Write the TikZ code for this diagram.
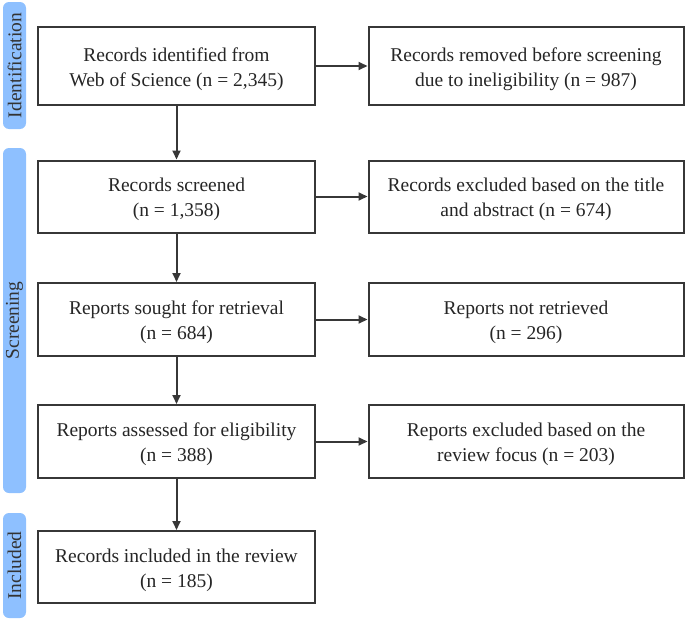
\documentclass[tikz,border=0pt]{standalone}
\usepackage{fontspec}
\setmainfont{Liberation Serif}
\usetikzlibrary{arrows.meta}
\definecolor{barblue}{RGB}{142,192,255}
\definecolor{boxline}{RGB}{55,55,55}
\begin{document}
\begin{tikzpicture}[x=1pt,y=-1pt,
  box/.style={draw=boxline,line width=2pt,fill=white,inner sep=0pt,align=center,font=\fontsize{19.5}{24.5}\selectfont,text=black!85},
  boxtext/.style={inner sep=0pt,align=center,font=\fontsize{19.5}{25}\selectfont,text=black!85,yshift=-3pt},
  barlabel/.style={rotate=90,font=\fontsize{19.5}{24}\selectfont,text=black!80},
  arr/.style={draw=boxline,line width=2pt,-{Triangle[length=9pt,width=8pt]}}]
\useasboundingbox (0,0) rectangle (685,621);
% side bars
\fill[barblue,rounded corners=6pt] (3,2) rectangle (26,129);
\fill[barblue,rounded corners=6pt] (3,148) rectangle (26,493);
\fill[barblue,rounded corners=6pt] (3,513) rectangle (26,618);
\node[barlabel] (lid) at (14.5,65.5) {Identification};
\node[barlabel] (lsc) at (14.5,320.5) {Screening};
\node[barlabel] (lin) at (14.5,565.5) {Included};
% left boxes
\node[box,minimum width=277pt,minimum height=78pt] (b1) at (176.5,66) {};
\node[box,minimum width=277pt,minimum height=72pt] (b2) at (176.5,196.5) {};
\node[box,minimum width=277pt,minimum height=73pt] (b3) at (176.5,319.5) {};
\node[box,minimum width=277pt,minimum height=73pt] (b4) at (176.5,441.5) {};
\node[box,minimum width=277pt,minimum height=72pt] (b5) at (176.5,567) {};
\node[boxtext] (t1) at (b1) {Records identified from\\Web of Science (n = 2,345)};
\node[boxtext] (t2) at (b2) {Records screened\\(n = 1,358)};
\node[boxtext] (t3) at (b3) {Reports sought for retrieval\\(n = 684)};
\node[boxtext] (t4) at (b4) {Reports assessed for eligibility\\(n = 388)};
\node[boxtext] (t5) at (b5) {Records included in the review\\(n = 185)};
% right boxes
\node[box,minimum width=315pt,minimum height=78pt] (r1) at (526,66) {};
\node[box,minimum width=315pt,minimum height=72pt] (r2) at (526,196.5) {};
\node[box,minimum width=315pt,minimum height=73pt] (r3) at (526,319.5) {};
\node[box,minimum width=315pt,minimum height=73pt] (r4) at (526,441.5) {};
\node[boxtext] (s1) at (r1) {Records removed before screening\\due to ineligibility (n = 987)};
\node[boxtext] (s2) at (r2) {Records excluded based on the title\\and abstract (n = 674)};
\node[boxtext] (s3) at (r3) {Reports not retrieved\\(n = 296)};
\node[boxtext] (s4) at (r4) {Reports excluded based on the\\review focus (n = 203)};
% arrows
\draw[arr] (b1) -- (b2);
\draw[arr] (b2) -- (b3);
\draw[arr] (b3) -- (b4);
\draw[arr] (b4) -- (b5);
\draw[arr] (b1) -- (r1);
\draw[arr] (b2) -- (r2);
\draw[arr] (b3) -- (r3);
\draw[arr] (b4) -- (r4);
\end{tikzpicture}
\end{document}
